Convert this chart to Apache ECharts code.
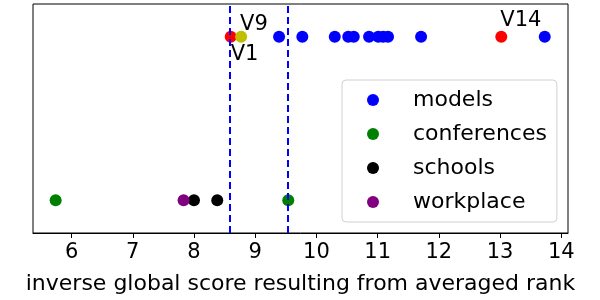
<!DOCTYPE html>
<html><head><meta charset="utf-8">
<script src="https://cdn.jsdelivr.net/npm/echarts@6/dist/echarts.min.js"></script>
<style>html,body{margin:0;padding:0;background:#fff}#c{width:600px;height:300px}</style>
</head><body><div id="c"></div>
<script>
const tickValues = [6, 7, 8, 9, 10, 11, 12, 13, 14];
const modelsX = [9.39, 9.77, 10.30, 10.52, 10.61, 10.86, 11.01, 11.09, 11.17, 11.71, 13.73];
const conferencesX = [5.74, 9.54];
const schoolsX = [8.00, 8.38];
const workplaceX = [7.83];
const redX = [8.60, 13.02];
const redLabels = ['V1', 'V14'];
const yellowX = [8.77];
const yellowLabels = ['V9'];
const dashedX = [8.59, 9.53];
const topY = 1, bottomY = 0;

const font = 'DejaVu Sans';
const mk = (xs, y) => xs.map(x => [x, y]);

const chart = echarts.init(document.getElementById('c'), null, {renderer: 'canvas'});
chart.setOption({
  animation: false,
  textStyle: {fontFamily: font},
  grid: {left: 33, right: 32, top: 4, bottom: 65, show: true, borderColor: '#000', borderWidth: 1, backgroundColor: 'transparent'},
  xAxis: {
    type: 'value', min: 5.37, max: 14.11,
    name: 'inverse global score resulting from averaged rank',
    nameLocation: 'middle', nameGap: 40,
    nameTextStyle: {fontSize: 22, color: '#000', fontFamily: font},
    axisLine: {show: true, onZero: false, lineStyle: {color: '#000', width: 1}},
    axisTick: {show: true, customValues: tickValues, length: 5, lineStyle: {color: '#000'}},
    axisLabel: {customValues: tickValues, fontSize: 21, color: '#000', margin: 9, fontFamily: font},
    splitLine: {show: false}
  },
  yAxis: {type: 'value', min: -0.2, max: 1.2, show: false, splitLine: {show: false}},
  legend: {
    orient: 'vertical', left: 342, top: 80,
    data: ['models', 'conferences', 'schools', 'workplace'],
    icon: 'circle', itemWidth: 12, itemHeight: 12, itemGap: 12,
    padding: [9, 10, 9, 25],
    borderColor: '#d0d0d0', borderWidth: 1, borderRadius: 4,
    backgroundColor: 'rgba(255,255,255,0.8)',
    textStyle: {fontSize: 22, color: '#000', fontFamily: font, padding: [0, 0, 0, 29]}
  },
  series: [
    {name: 'models', type: 'scatter', symbolSize: 12, itemStyle: {color: '#0000ff', opacity: 1}, data: mk(modelsX, topY), z: 2},
    {name: 'conferences', type: 'scatter', symbolSize: 12, itemStyle: {color: '#008000', opacity: 1}, data: mk(conferencesX, bottomY), z: 2},
    {name: 'schools', type: 'scatter', symbolSize: 12, itemStyle: {color: '#000000', opacity: 1}, data: mk(schoolsX, bottomY), z: 2},
    {name: 'workplace', type: 'scatter', symbolSize: 12, itemStyle: {color: '#800080', opacity: 1}, data: mk(workplaceX, bottomY), z: 3},
    {name: 'red', type: 'scatter', symbolSize: 12, itemStyle: {color: '#ff0000', opacity: 1}, z: 2,
      data: redX.map((x, i) => ({value: [x, topY], label: {show: true, formatter: redLabels[i], position: i === 0 ? 'bottom' : 'top', align: 'left',
        offset: i === 0 ? [0, -4] : [-1, 5], fontSize: 21, color: '#000', fontFamily: font}}))},
    {name: 'yellow', type: 'scatter', symbolSize: 12, itemStyle: {color: '#bfbf00', opacity: 1}, z: 3,
      data: yellowX.map((x, i) => ({value: [x, topY], label: {show: true, formatter: yellowLabels[i], position: 'top', align: 'left', offset: [-1, 9],
        fontSize: 21, color: '#000', fontFamily: font}})),
      markLine: {silent: true, symbol: 'none', label: {show: false},
        lineStyle: {color: '#0000ff', type: [7, 4], width: 2},
        data: dashedX.map(x => ({xAxis: x}))}}
  ]
});
</script></body></html>
